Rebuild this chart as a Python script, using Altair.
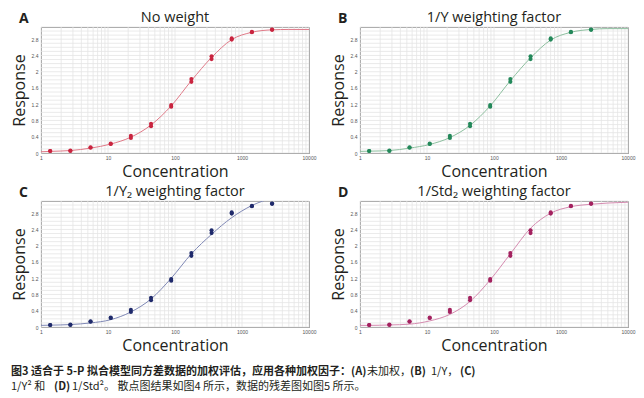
import altair as alt
import pandas as pd

# ---- data ----
conc = [1.372, 2.744, 5.488, 10.98, 21.95, 43.9, 87.8, 175.6, 351.2, 702.4, 1405, 2809]
rep1 = [0.05, 0.05, 0.13, 0.22, 0.37, 0.66, 1.14, 1.75, 2.31, 2.79, 2.97, 3.03]
rep2 = [0.05, 0.06, 0.14, 0.23, 0.42, 0.72, 1.18, 1.82, 2.38, 2.82, 2.98, 3.04]

curve_x = [1, 1.372, 2.744, 5.488, 10.98, 21.95, 43.9, 87.8, 175.6, 351.2, 702.4, 1405, 2809, 5000, 10000]
curve_A = [0.03, 0.04, 0.06, 0.12, 0.22, 0.39, 0.69, 1.16, 1.78, 2.35, 2.79, 2.97, 3.03, 3.04, 3.04]
curve_B = [0.04, 0.045, 0.06, 0.12, 0.21, 0.38, 0.68, 1.16, 1.78, 2.34, 2.78, 2.97, 3.04, 3.06, 3.06]
curve_C = [0.04, 0.045, 0.06, 0.10, 0.18, 0.37, 0.69, 1.20, 1.80, 2.28, 2.69, 2.99, 3.18, 3.35, 3.55]
curve_D = [0.04, 0.04, 0.05, 0.07, 0.15, 0.31, 0.63, 1.16, 1.80, 2.43, 2.80, 2.96, 3.02, 3.05, 3.07]

panel_letters = ["A", "B", "C", "D"]
panel_titles = ["No weight", "1/Y weighting factor", "1/Y\u2082 weighting factor", "1/Std\u2082 weighting factor"]
dot_colors = ["#c9243f", "#23885a", "#1f2a6b", "#a3215f"]
line_colors = ["#e07a88", "#8dbf9f", "#7f88b5", "#d58bb0"]

x_grid = [m * 10 ** k for k in range(4) for m in range(1, 10)] + [10000]
x_labels = [1, 10, 100, 1000, 10000]
y_grid = [round(i * 0.1, 1) for i in range(32)]
y_labels = [0, 0.4, 0.8, 1.2, 1.6, 2, 2.4, 2.8]

caption_1 = [("图3  适合于 5-P 拟合模型同方差数据的加权评估，应用各种加权因子：", "bold", -30),
             ("(A)", "bold", 310), ("未加权，", "normal", 326), ("(B)", "bold", 369),
             ("1/Y，", "normal", 390), ("(C)", "bold", 419)]
caption_2 = [("1/Y² 和", "normal", -30), ("(D)", "bold", 13),
             ("1/Std²。 散点图结果如图4 所示，数据的残差图如图5 所示。", "normal", 31)]

FONT = "Open Sans"
W, H = 268, 126
GRID = "#e4e4e4"

pts = pd.DataFrame({"conc": conc + conc, "resp": rep1 + rep2})
xg = pd.DataFrame({"g": x_grid})
yg = pd.DataFrame({"g": y_grid})

x_scale = alt.Scale(type="log", domain=[1, 10000], nice=False)
y_scale = alt.Scale(domain=[0, 3.1], nice=False, zero=False)

x_axis = alt.Axis(values=x_labels, title="Concentration", format="d",
                  grid=False, ticks=False, domain=False,
                  labelFontSize=5, labelPadding=2, labelColor="#555555", labelFlush=False,
                  labelOverlap=False,
                  titleFontSize=16, titleFontWeight="normal", titlePadding=3, titleColor="#231f20",
                  titleFont=FONT)
y_axis = alt.Axis(values=y_labels, title="Response", format="~g",
                  grid=False, ticks=False, domain=False,
                  labelFontSize=5, labelPadding=3, labelColor="#555555", labelOverlap=False,
                  labelFlush=False,
                  titleFontSize=16, titleFontWeight="normal", titlePadding=4, titleColor="#231f20",
                  titleFont=FONT)


def panel(i, curve):
    cdf = pd.DataFrame({"conc": curve_x, "resp": curve})
    vgrid = alt.Chart(xg).mark_rule(color=GRID, strokeWidth=0.8).encode(
        x=alt.X("g:Q", scale=x_scale, axis=x_axis)
    )
    hgrid = alt.Chart(yg).mark_rule(color=GRID, strokeWidth=0.8).encode(
        y=alt.Y("g:Q", scale=y_scale, axis=y_axis)
    )
    line = alt.Chart(cdf).mark_line(color=line_colors[i], strokeWidth=1, interpolate="monotone", clip=True).encode(
        x=alt.X("conc:Q", scale=x_scale, axis=x_axis),
        y=alt.Y("resp:Q", scale=y_scale, axis=y_axis),
    )
    dots = alt.Chart(pts).mark_circle(color=dot_colors[i], size=17, opacity=1).encode(
        x=alt.X("conc:Q", scale=x_scale, axis=x_axis),
        y=alt.Y("resp:Q", scale=y_scale, axis=y_axis),
    )
    letter = alt.Chart(pd.DataFrame({"t": [panel_letters[i]]})).mark_text(
        font=FONT, fontSize=14, fontWeight="bold", align="left", baseline="alphabetic", color="#231f20"
    ).encode(text="t:N", x=alt.value(-22), y=alt.value(-4))
    title = alt.Chart(pd.DataFrame({"t": [panel_titles[i]]})).mark_text(
        font=FONT, fontSize=14.5, align="center", baseline="alphabetic", color="#231f20"
    ).encode(text="t:N", x=alt.value(W / 2), y=alt.value(-5))
    return alt.layer(vgrid, hgrid, line, dots, letter, title).properties(
        width=W, height=H,
        view=alt.ViewBackground(stroke="#8a8a8a", strokeWidth=1),
    )


pA = panel(0, curve_A)
pB = panel(1, curve_B)
pC = panel(2, curve_C)
pD = panel(3, curve_D)

cap_layers = []
for segs, yy in [(caption_1, 19), (caption_2, 34)]:
    for txt, wt, xx in segs:
        cap_layers.append(
            alt.Chart(pd.DataFrame({"t": [txt]})).mark_text(
                font="Noto Sans CJK SC", fontSize=11, fontWeight=wt, align="left",
                baseline="alphabetic", color="#231f20"
            ).encode(text="t:N", x=alt.value(xx), y=alt.value(yy))
        )
caption = alt.layer(*cap_layers).properties(
    width=560, height=36, view=alt.ViewBackground(stroke="transparent")
)

row1 = alt.hconcat(pA, pB, spacing=12)
row2 = alt.hconcat(pC, pD, spacing=12)
panels = alt.vconcat(row1, row2, spacing=3)
chart = alt.vconcat(panels, caption, spacing=1).configure_view(stroke=None).configure(
    padding={"left": 2, "top": 1, "right": 0, "bottom": 0}
)

chart.save("out.html", embed_options={"renderer": "svg", "actions": False})
